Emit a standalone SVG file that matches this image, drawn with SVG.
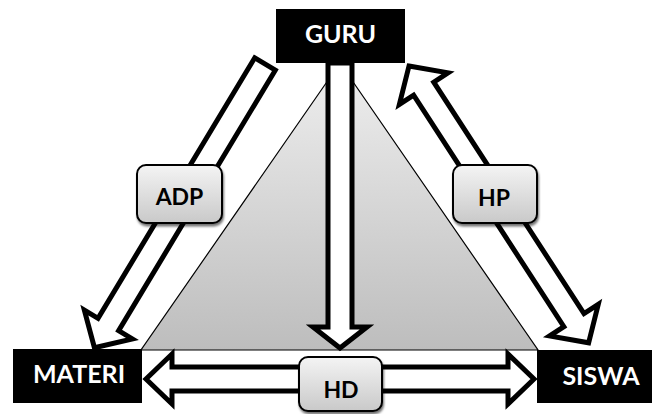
<svg xmlns="http://www.w3.org/2000/svg" width="652" height="414" viewBox="0 0 652 414">
<defs>
<linearGradient id="tri" x1="0" y1="0" x2="0" y2="1">
<stop offset="0" stop-color="#efefef"/>
<stop offset="1" stop-color="#bdbdbd"/>
</linearGradient>
<linearGradient id="lbl" x1="0" y1="0" x2="0" y2="1">
<stop offset="0" stop-color="#f4f4f4"/>
<stop offset="1" stop-color="#c9c9c9"/>
</linearGradient>
<filter id="sh" x="-20%" y="-20%" width="140%" height="150%">
<feDropShadow dx="1" dy="2.5" stdDeviation="1.2" flood-color="#000" flood-opacity="0.55"/>
</filter>
</defs>
<style>
.arrow{fill:#fff;stroke:#000;stroke-width:5;stroke-linejoin:miter;stroke-miterlimit:10}
.node rect{fill:#000}
.node text{fill:#fff;font-family:Lato,"Open Sans",sans-serif;font-weight:bold;font-size:25px;text-anchor:middle}
.lbl rect{fill:url(#lbl);stroke:#000;stroke-width:2;filter:url(#sh)}
.lbl text{fill:#000;font-family:Lato,"Open Sans",sans-serif;font-weight:bold;font-size:23px;text-anchor:middle}
</style>
<rect width="652" height="414" fill="#fff"/>
<polygon id="triangle" points="340,63 141,350 538,350" fill="url(#tri)" stroke="#000" stroke-width="1.2"/>
<g id="connectors">
<path class="arrow" transform="translate(265,64) rotate(121.02)" d="M0,-12 L304,-12 L304,-28 L331,0 L304,28 L304,12 L0,12 Z"/>
<path class="arrow" transform="translate(409,66) rotate(57.02)" d="M0,0 L27,-29 L27,-12 L303,-12 L303,-29 L330,0 L303,29 L303,12 L27,12 L27,29 Z"/>
<path class="arrow" d="M328,63 L352,63 L352,327 L367,327 L340,348 L313,327 L328,327 Z"/>
<path class="arrow" d="M146,379 L172,354 L172,367 L508,367 L508,354 L534,379 L508,404 L508,391 L172,391 L172,404 Z"/>
</g>
<g id="guru" class="node"><rect x="276" y="9" width="129" height="54"/><text x="340.5" y="43">GURU</text></g>
<g id="materi" class="node"><rect x="13" y="349" width="129" height="54"/><text x="79" y="383">MATERI</text></g>
<g id="siswa" class="node"><rect x="537" y="350" width="117" height="53"/><text x="601" y="385">SISWA</text></g>
<g id="adp" class="lbl"><rect x="137" y="165" width="85" height="58" rx="9"/><text x="179.5" y="205">ADP</text></g>
<g id="hp" class="lbl"><rect x="453" y="165" width="84" height="58" rx="9"/><text x="494" y="206">HP</text></g>
<g id="hd" class="lbl"><rect x="299" y="357" width="83" height="54" rx="9"/><text x="341" y="398">HD</text></g>
</svg>
